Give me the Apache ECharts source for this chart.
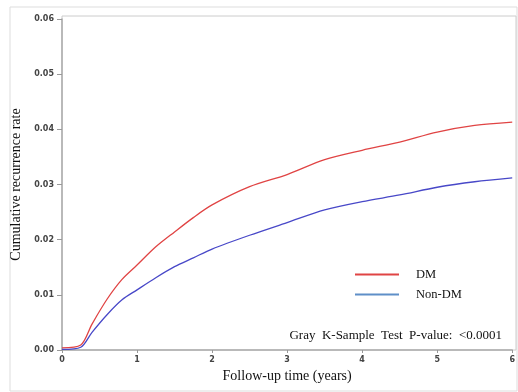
<!DOCTYPE html>
<html>
<head>
<meta charset="utf-8">
<script src="https://cdn.jsdelivr.net/npm/echarts@6/dist/echarts.min.js"></script>
<style>
  html, body { margin: 0; padding: 0; background: #fff; }
  #chart { width: 518px; height: 392px; }
</style>
</head>
<body>
<div id="chart"></div>
<script>
// follow-up time (years) and cumulative recurrence rate
const years = [0, 0.25, 0.4, 0.6, 0.8, 1.0, 1.25, 1.5, 1.75, 2.0, 2.5, 3.0, 3.5, 4.0, 4.5, 5.0, 5.5, 6.0];
const dmRate = [0.0004, 0.0009, 0.0047, 0.0092, 0.0128, 0.0154, 0.0187, 0.0214, 0.0240, 0.0263, 0.0296, 0.0318, 0.0345, 0.0362, 0.0377, 0.0395, 0.0407, 0.0413];
const nonDmRate = [0.0001, 0.0005, 0.0032, 0.0064, 0.0091, 0.0109, 0.0131, 0.0151, 0.0167, 0.0183, 0.0208, 0.0231, 0.0254, 0.0269, 0.0281, 0.0295, 0.0305, 0.0312];
const seriesNames = ['DM', 'Non-DM'];
const pValueText = 'Gray  K-Sample  Test  P-value:  <0.0001';

const toPairs = (vals) => vals.map((v, i) => [years[i], v]);

const tickFont = { fontFamily: 'DejaVu Sans', fontWeight: 'bold', fontSize: 8, color: '#444' };
const serif = 'Liberation Serif';

const chart = echarts.init(document.getElementById('chart'), null, { renderer: 'canvas' });

chart.setOption({
  animation: false,
  backgroundColor: '#fff',
  grid: { left: 62, right: 3, top: 19, bottom: 42, show: false },
  xAxis: {
    type: 'value',
    min: 0,
    max: 6,
    interval: 1,
    name: 'Follow-up time (years)',
    nameLocation: 'middle',
    nameGap: 18,
    nameTextStyle: { fontFamily: serif, fontSize: 14, color: '#111' },
    axisLine: { lineStyle: { color: '#aaa', width: 1.5 } },
    axisTick: { show: true, length: 3, lineStyle: { color: '#999' } },
    axisLabel: Object.assign({ margin: 6 }, tickFont),
    splitLine: { show: false }
  },
  yAxis: {
    type: 'value',
    min: 0,
    max: 0.06,
    interval: 0.01,
    name: 'Cumulative recurrence rate',
    nameLocation: 'middle',
    nameGap: 28,
    nameTextStyle: { fontFamily: serif, fontSize: 14, color: '#111' },
    axisLine: { show: true, lineStyle: { color: '#aaa', width: 1.5 } },
    axisTick: { show: true, length: 5, lineStyle: { color: '#999' } },
    axisLabel: Object.assign({ margin: 8, formatter: (v) => v.toFixed(2) }, tickFont),
    splitLine: { show: false }
  },
  legend: {
    orient: 'vertical',
    left: 350,
    top: 263,
    icon: 'rect',
    itemWidth: 44,
    itemHeight: 2,
    itemGap: 7,
    textStyle: { fontFamily: serif, fontSize: 12.5, color: '#111', padding: [0, 0, 0, 12] },
    data: [
      { name: seriesNames[0], itemStyle: { color: '#e04444' } },
      { name: seriesNames[1], itemStyle: { color: '#5f8fc8' } }
    ]
  },
  graphic: [
    {
      type: 'rect',
      silent: true,
      shape: { x: 10, y: 7, width: 507, height: 384 },
      style: { fill: 'none', stroke: '#ddd', lineWidth: 1 },
      z: -1
    },
    {
      type: 'rect',
      silent: true,
      shape: { x: 62, y: 16, width: 454, height: 334 },
      style: { fill: 'none', stroke: '#ccc', lineWidth: 1 },
      z: -1
    },
    {
      type: 'text',
      right: 16,
      top: 329,
      style: { text: pValueText, fontFamily: serif, fontSize: 13, fill: '#111' }
    }
  ],
  series: [
    {
      name: seriesNames[0],
      type: 'line',
      data: toPairs(dmRate),
      showSymbol: false,
      smooth: 0.3,
      lineStyle: { color: '#e04444', width: 1.3 },
      itemStyle: { color: '#e04444' }
    },
    {
      name: seriesNames[1],
      type: 'line',
      data: toPairs(nonDmRate),
      showSymbol: false,
      smooth: 0.3,
      lineStyle: { color: '#4848c8', width: 1.3 },
      itemStyle: { color: '#4848c8' }
    }
  ]
});
</script>
</body>
</html>
